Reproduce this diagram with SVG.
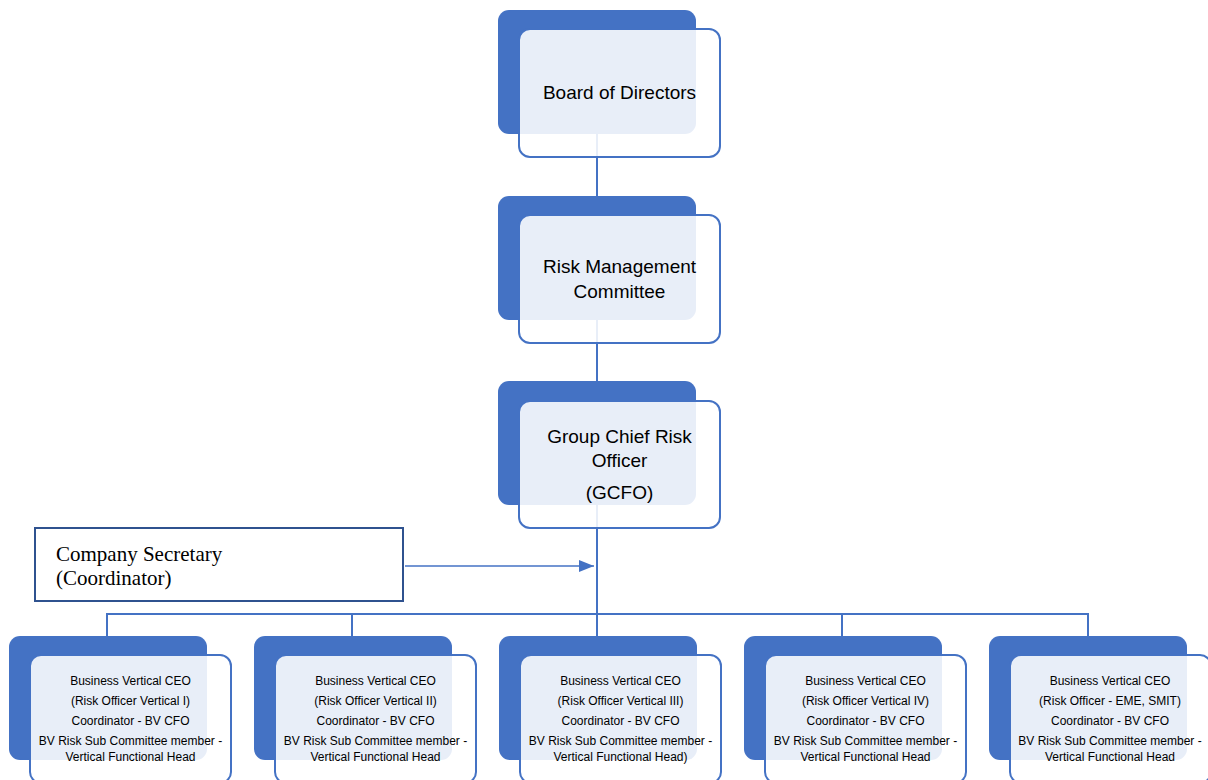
<svg xmlns="http://www.w3.org/2000/svg" width="1208" height="780" viewBox="0 0 1208 780">
<style>
.back{fill:#4472C4}
.front{fill:#ffffff;fill-opacity:0.88;stroke:#4472C4;stroke-width:2}
.t{font-family:"Liberation Sans",Arial,sans-serif;fill:#000;text-anchor:middle}
.big{font-size:19px}
.small{font-size:12px}
.conn{stroke:#4472C4;stroke-width:2;fill:none}
.cs{font-family:"Liberation Serif","Times New Roman",serif;font-size:21px;fill:#000}
</style>
<defs>
<marker id="arr" markerWidth="15" markerHeight="12" refX="15" refY="6" orient="auto" markerUnits="userSpaceOnUse">
<path d="M0,0 L15,6 L0,12 Z" fill="#4472C4"/>
</marker>
</defs>
<g id="connectors">
<line class="conn" x1="597" y1="130" x2="597" y2="200"/>
<line class="conn" x1="597" y1="315" x2="597" y2="385"/>
<line class="conn" x1="597" y1="500" x2="597" y2="614"/>
<polyline class="conn" points="107,636 107,614 1088,614 1088,636"/>
<line class="conn" x1="352" y1="614" x2="352" y2="636"/>
<line class="conn" x1="597" y1="614" x2="597" y2="636"/>
<line class="conn" x1="842" y1="614" x2="842" y2="636"/>
<line x1="405" y1="566" x2="594" y2="566" stroke="#4472C4" stroke-width="1.3" marker-end="url(#arr)"/>
</g>
<g id="node-board">
<rect class="back" x="498" y="10" width="198" height="124" rx="11"/>
<rect class="front" x="519" y="29" width="201" height="128" rx="11"/>
<text class="t big" x="619.5" y="99">Board of Directors</text>
</g>
<g id="node-rmc">
<rect class="back" x="498" y="196" width="198" height="124" rx="11"/>
<rect class="front" x="519" y="215" width="201" height="128" rx="11"/>
<text class="t big" x="619.5" y="273">Risk Management</text>
<text class="t big" x="619.5" y="298">Committee</text>
</g>
<g id="node-gcro">
<rect class="back" x="498" y="381" width="198" height="124" rx="11"/>
<rect class="front" x="519" y="401" width="201" height="127" rx="11"/>
<text class="t big" x="619.5" y="443">Group Chief Risk</text>
<text class="t big" x="619.5" y="467">Officer</text>
<text class="t big" x="619.5" y="499">(GCFO)</text>
</g>
<g id="node-cs">
<rect x="35" y="528" width="368" height="73" fill="#fff" stroke="#2F528F" stroke-width="2"/>
<text class="cs" x="56" y="561">Company Secretary</text>
<text class="cs" x="56" y="585">(Coordinator)</text>
</g>
<g id="node-bv1">
<rect class="back" x="9" y="636" width="198" height="124" rx="11"/>
<rect class="front" x="30" y="655" width="201" height="128" rx="11"/>
<text class="t small" x="130.5" y="685">Business Vertical CEO</text>
<text class="t small" x="130.5" y="705">(Risk Officer Vertical I)</text>
<text class="t small" x="130.5" y="725">Coordinator - BV CFO</text>
<text class="t small" x="130.5" y="745">BV Risk Sub Committee member -</text>
<text class="t small" x="130.5" y="761">Vertical Functional Head</text>
</g>
<g id="node-bv2">
<rect class="back" x="254" y="636" width="198" height="124" rx="11"/>
<rect class="front" x="275" y="655" width="201" height="128" rx="11"/>
<text class="t small" x="375.5" y="685">Business Vertical CEO</text>
<text class="t small" x="375.5" y="705">(Risk Officer Vertical II)</text>
<text class="t small" x="375.5" y="725">Coordinator - BV CFO</text>
<text class="t small" x="375.5" y="745">BV Risk Sub Committee member -</text>
<text class="t small" x="375.5" y="761">Vertical Functional Head</text>
</g>
<g id="node-bv3">
<rect class="back" x="499" y="636" width="198" height="124" rx="11"/>
<rect class="front" x="520" y="655" width="201" height="128" rx="11"/>
<text class="t small" x="620.5" y="685">Business Vertical CEO</text>
<text class="t small" x="620.5" y="705">(Risk Officer Vertical III)</text>
<text class="t small" x="620.5" y="725">Coordinator - BV CFO</text>
<text class="t small" x="620.5" y="745">BV Risk Sub Committee member -</text>
<text class="t small" x="620.5" y="761">Vertical Functional Head)</text>
</g>
<g id="node-bv4">
<rect class="back" x="744" y="636" width="198" height="124" rx="11"/>
<rect class="front" x="765" y="655" width="201" height="128" rx="11"/>
<text class="t small" x="865.5" y="685">Business Vertical CEO</text>
<text class="t small" x="865.5" y="705">(Risk Officer Vertical IV)</text>
<text class="t small" x="865.5" y="725">Coordinator - BV CFO</text>
<text class="t small" x="865.5" y="745">BV Risk Sub Committee member -</text>
<text class="t small" x="865.5" y="761">Vertical Functional Head</text>
</g>
<g id="node-bv5">
<rect class="back" x="989" y="636" width="198" height="124" rx="11"/>
<rect class="front" x="1010" y="655" width="201" height="128" rx="11"/>
<text class="t small" x="1110" y="685">Business Vertical CEO</text>
<text class="t small" x="1110" y="705">(Risk Officer - EME, SMIT)</text>
<text class="t small" x="1110" y="725">Coordinator - BV CFO</text>
<text class="t small" x="1110" y="745">BV Risk Sub Committee member -</text>
<text class="t small" x="1110" y="761">Vertical Functional Head</text>
</g>
</svg>
